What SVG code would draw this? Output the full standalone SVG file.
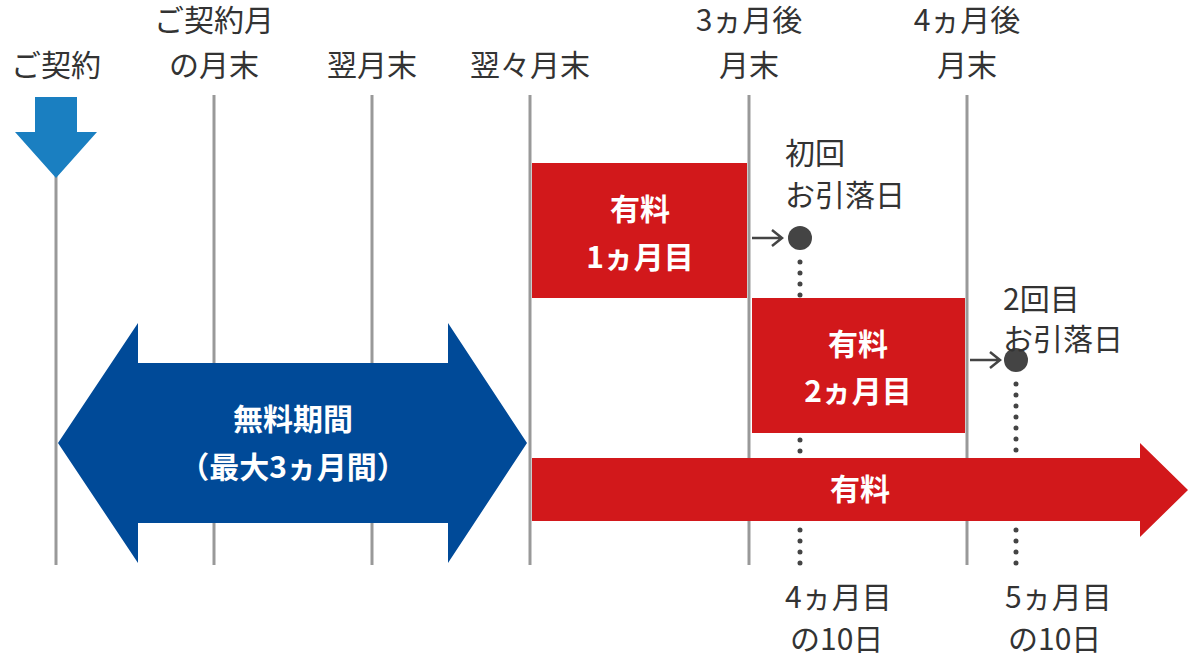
<svg xmlns="http://www.w3.org/2000/svg" width="1190" height="660" viewBox="0 0 1190 660">
<style>
text{font-family:"Noto Sans CJK JP","Noto Sans",sans-serif;font-size:30px;fill:#333;text-anchor:middle}
.w{fill:#fff;font-weight:bold;font-size:30px}
.l{text-anchor:start}
.g{stroke:#999;stroke-width:3}
.d{stroke:#444;stroke-width:5;stroke-dasharray:0 11;stroke-linecap:round}
.r{fill:#d2181b}
</style>
<rect width="1190" height="660" fill="#fff"/>
<g id="timeline">
<line class="g" x1="56" y1="170" x2="56" y2="565"/>
<line class="g" x1="214" y1="95" x2="214" y2="565"/>
<line class="g" x1="372" y1="95" x2="372" y2="565"/>
<line class="g" x1="530" y1="95" x2="530" y2="565"/>
<line class="g" x1="749" y1="95" x2="749" y2="565"/>
<line class="g" x1="967" y1="95" x2="967" y2="565"/>
</g>
<g id="labels">
<text x="56" y="76">ご契約</text>
<text x="214" y="31">ご契約月</text><text x="214" y="76">の月末</text>
<text x="372" y="76">翌月末</text>
<text x="530" y="76">翌々月末</text>
<text x="749" y="31">3ヵ月後</text><text x="749" y="76">月末</text>
<text x="967" y="31">4ヵ月後</text><text x="967" y="76">月末</text>
</g>
<g id="start-arrow"><polygon points="35,97 77,97 77,132 97,132 56,178 15,132 35,132" fill="#1a7fc1"/></g>
<g id="free"><polygon points="58,443 138,323 138,363 448,363 448,323 527,443 448,563 448,523 138,523 138,563" fill="#004a98"/>
<text class="w" x="293" y="430">無料期間</text><text class="w" x="293" y="478">（最大3ヵ月間）</text></g>
<g id="paid1"><rect class="r" x="532" y="163" width="215" height="135"/><text class="w" x="640" y="220">有料</text><text class="w" x="640" y="268">1ヵ月目</text></g>
<g id="paid2"><rect class="r" x="752" y="298" width="213" height="135"/><text class="w" x="858" y="355">有料</text><text class="w" x="858" y="402">2ヵ月目</text></g>
<g id="paid"><polygon class="r" points="532,458 1140,458 1140,443 1188,490 1140,537 1140,521 532,521"/><text class="w" x="860" y="500">有料</text></g>
<g id="connectors" fill="none" stroke="#444" stroke-width="2.5">
<path d="M752 238H782M772 230L782 238L772 246"/>
<path d="M970 360H1000M990 352L1000 360L990 368"/>
<line class="d" x1="800" y1="262" x2="800" y2="296"/>
<line class="d" x1="800" y1="440" x2="800" y2="455"/>
<line class="d" x1="800" y1="530" x2="800" y2="566"/>
<line class="d" x1="1016" y1="384" x2="1016" y2="455"/>
<line class="d" x1="1016" y1="530" x2="1016" y2="566"/>
</g>
<g id="debit1"><circle cx="800" cy="238" r="12" fill="#444"/><text class="l" x="785" y="164">初回</text><text class="l" x="785" y="206">お引落日</text></g>
<g id="debit2"><circle cx="1016" cy="360" r="12" fill="#444"/><text class="l" x="1003" y="310">2回目</text><text class="l" x="1003" y="350">お引落日</text></g>
<g id="n4"><text class="l" x="785" y="608">4ヵ月目</text><text class="l" x="790" y="650">の10日</text></g>
<g id="n5"><text class="l" x="1005" y="608">5ヵ月目</text><text class="l" x="1008" y="650">の10日</text></g>
</svg>
